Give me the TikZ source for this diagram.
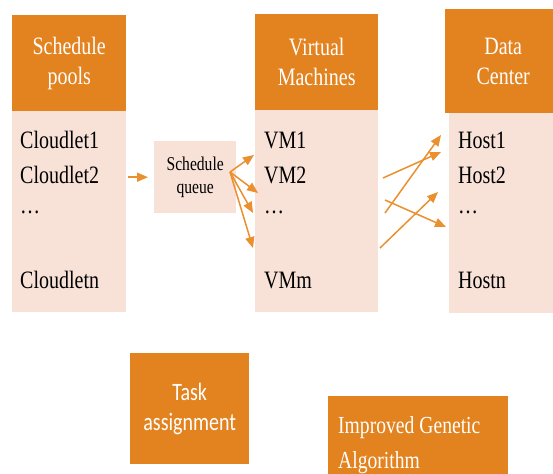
\documentclass[tikz,border=0pt]{standalone}
\usepackage{fontspec}
\usepackage{xcolor}
\usepackage{tikz}
\usetikzlibrary{arrows.meta, positioning, calc}
\setmainfont{Liberation Serif}
\newfontfamily\serifnarrow[FakeStretch=0.8]{Liberation Serif}
\newfontfamily\sansnarrow[FakeStretch=0.8]{Carlito}
\definecolor{headorange}{HTML}{E3831F}
\definecolor{bodypeach}{HTML}{F8E2D8}
\definecolor{floworange}{HTML}{EA902E}

\tikzset{
    head/.style={fill=headorange, text=white, align=center, inner sep=0pt,
                 anchor=north west, font=\serifnarrow\fontsize{25bp}{30bp}\selectfont},
    listbody/.style={fill=bodypeach, inner sep=0pt, anchor=north west},
    item/.style={anchor=base west, inner sep=0pt,
                 font=\serifnarrow\fontsize{25bp}{28bp}\selectfont},
    flow/.style={draw=floworange, line width=1.5bp,
                 -{Triangle[length=11bp,width=9bp]}},
}

\begin{document}
\begin{tikzpicture}[x=1bp, y=-1bp]
    \useasboundingbox[fill=white] (0,0) rectangle (553,474);

    % three columns: header on top, list of items below
    \node[head, minimum width=114bp, minimum height=96bp] (poolhead) at (12,15) {Schedule\\pools};
    \node[listbody, minimum width=114bp, minimum height=201bp] (poolbody) at (12,111) {};
    \node[head, minimum width=123bp, minimum height=96bp] (vmhead) at (255,14) {Virtual\\Machines};
    \node[listbody, minimum width=123bp, minimum height=202bp] (vmbody) at (255,110) {};
    \node[head, minimum width=116bp, minimum height=104bp] (dchead) at (445,9) {Data\\Center};
    \node[listbody, minimum width=112bp, minimum height=200bp] (dcbody) at (449,113) {};

    % items
    \foreach \name/\txt/\yy in {c1/Cloudlet1/149, c2/Cloudlet2/184, cd/\dots/214, cn/Cloudletn/288}
        \node[item] (\name) at (20,\yy) {\txt};
    \foreach \name/\txt/\yy in {v1/VM1/149, v2/VM2/184, vd/\dots/214, vn/VMm/288}
        \node[item] (\name) at (264,\yy) {\txt};
    \foreach \name/\txt/\yy in {h1/Host1/149, h2/Host2/184, hd/\dots/214, hn/Hostn/288}
        \node[item] (\name) at (458,\yy) {\txt};

    % queue between pools and VMs
    \node[fill=bodypeach, align=center, inner sep=0pt, minimum width=82bp, minimum height=72bp,
          font=\serifnarrow\fontsize{19.5bp}{23bp}\selectfont, anchor=north west] (queue) at (154,141) {Schedule\\queue};

    % bottom boxes
    \node[fill=headorange, text=white, align=center, inner sep=0pt, anchor=north west,
          minimum width=119bp, minimum height=111bp,
          font=\sansnarrow\fontsize{25bp}{30bp}\selectfont] (task) at (130,353) {Task\\assignment};
    \node[fill=headorange, text=white, align=left, inner xsep=10bp, inner ysep=0pt, anchor=north west,
          text width=160bp, minimum height=97bp,
          font=\serifnarrow\fontsize{24.5bp}{35bp}\selectfont] (iga) at (328,396) {\spaceskip=5bp\relax Improved Genetic\\Algorithm};

    % arrow ends
    \coordinate (fan) at (230,172);
    \coordinate (q1) at (254,155);
    \coordinate (q2) at (258,193);
    \coordinate (q3) at (253,213);
    \coordinate (q4) at (253,248);
    \coordinate (m1) at (383,178);
    \coordinate (m2) at (385,213);
    \coordinate (m3) at (385,200);
    \coordinate (m4) at (380,248);
    \coordinate (d1) at (441,152);
    \coordinate (d2) at (441,135);
    \coordinate (d3) at (446,227);
    \coordinate (d4) at (438,192);

    \draw[flow, shorten <=2bp, shorten >=6bp] (poolbody.east |- queue.west) -- (queue.west);
    \foreach \e in {q1,q2,q3,q4}
        \draw[flow] (fan) -- (\e);
    \foreach \s/\e in {m1/d1, m2/d2, m3/d3, m4/d4}
        \draw[flow] (\s) -- (\e);
\end{tikzpicture}
\end{document}
